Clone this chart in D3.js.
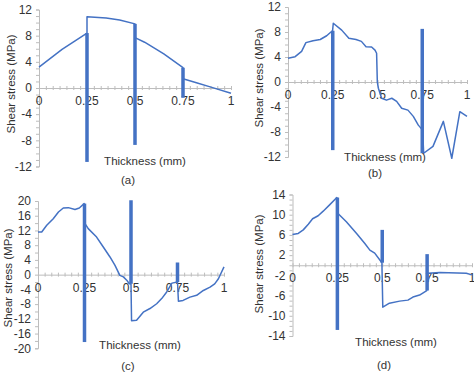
<!DOCTYPE html>
<html><head><meta charset="utf-8">
<script src="https://cdn.jsdelivr.net/npm/d3@7"></script>
<style>html,body{margin:0;padding:0;background:#fff;}svg{display:block;}</style>
</head><body>
<script>
// ---------- data ----------
const xTickLabels = [0, 0.25, 0.5, 0.75, 1];

const aX = [0, 0.12, 0.25, 0.25, 0.35, 0.42, 0.5, 0.5, 0.55, 0.65, 0.75, 0.75, 0.82, 0.9, 1];
const aY = [3.2, 5.9, 8.4, 10.9, 10.7, 10.4, 9.8, 7.7, 7.0, 5.2, 3.1, 1.4, 0.8, 0.1, -0.8];
const aBarX = [0.25, 0.5, 0.75];
const aBarTop = [8.4, 9.8, 3.1];
const aBarBottom = [-11.3, -8.7, -1.5];
const aYTicks = [-12, -8, -4, 0, 4, 8, 12];

const bX = [0, 0.04, 0.076, 0.10, 0.14, 0.18, 0.216, 0.24, 0.249, 0.253, 0.30, 0.34, 0.38, 0.41, 0.436, 0.467, 0.486, 0.495, 0.499, 0.505, 0.523, 0.55, 0.58, 0.607, 0.635, 0.67, 0.70, 0.728, 0.752, 0.758, 0.81, 0.868, 0.915, 0.96, 1.0];
const bY = [3.8, 4.05, 4.9, 6.3, 6.6, 6.8, 7.4, 8.0, 8.2, 9.4, 8.3, 7.0, 6.8, 6.5, 5.65, 5.6, 5.1, 4.6, 0, -1.0, -2.6, -2.9, -2.6, -3.1, -4.2, -4.5, -5.5, -6.9, -7.7, -11.4, -10.3, -6.3, -12.2, -4.75, -5.5];
const bBarX = [0.25, 0.75];
const bBarTop = [8.2, 8.5];
const bBarBottom = [-10.9, -11.4];
const bYTicks = [-12, -8, -4, 0, 4, 8, 12];

const cX = [0, 0.02, 0.047, 0.082, 0.11, 0.136, 0.163, 0.199, 0.222, 0.248, 0.252, 0.27, 0.315, 0.351, 0.387, 0.414, 0.44, 0.459, 0.477, 0.49, 0.5, 0.503, 0.53, 0.566, 0.602, 0.638, 0.665, 0.692, 0.72, 0.75, 0.755, 0.78, 0.817, 0.853, 0.889, 0.925, 0.95, 0.97, 1.0];
const cY = [11.6, 11.6, 13.4, 15.2, 17.0, 18.1, 18.2, 17.7, 18.1, 19.3, 13.9, 12.5, 10.2, 7.5, 4.8, 2.5, -0.2, -0.6, -1.5, -2.4, -2.6, -12.5, -12.4, -10.2, -9.2, -7.9, -6.5, -4.7, -2.3, -2.0, -7.2, -7.0, -6.1, -5.6, -4.3, -3.4, -2.5, -1.1, 2.1];
const cBarX = [0.25, 0.5, 0.75];
const cBarTop = [19.3, 20.2, 3.3];
const cBarBottom = [-18.3, -2.5, -2.0];
const cYTicks = [-20, -16, -12, -8, -4, 0, 4, 8, 12, 16, 20];

const dX = [0, 0.032, 0.06, 0.088, 0.112, 0.143, 0.171, 0.208, 0.247, 0.252, 0.30, 0.357, 0.403, 0.431, 0.458, 0.498, 0.503, 0.54, 0.597, 0.643, 0.671, 0.708, 0.748, 0.755, 0.82, 0.968, 1.0];
const dY = [6.1, 6.3, 7.0, 8.1, 9.2, 9.8, 10.7, 12.0, 13.4, 10.3, 8.6, 6.3, 4.3, 3.0, 2.4, 0.5, -8.3, -7.5, -7.1, -6.9, -6.3, -5.9, -5.0, -1.6, -1.45, -1.6, -1.9];
const dBarX = [0.25, 0.5, 0.75];
const dBarTop = [13.4, 7.0, 2.2];
const dBarBottom = [-12.8, 0.5, -5.0];
const dYTicks = [-14, -10, -6, -2, 2, 6, 10, 14];

// ---------- drawing ----------
const W = 474, H = 372;
const svg = d3.select("body").append("svg").attr("width", W).attr("height", H);
const FONT = "'Liberation Sans', Arial, sans-serif";
const BLUE = "#4472c4";
const AXIS = "#bdbdbd";
const TEXT = "#333";

function panel(o) {
  const x = d3.scaleLinear().domain([0, 1]).range(o.xr);
  const y = d3.scaleLinear().domain(o.yd).range(o.yr);
  const g = svg.append("g");

  // y axis
  const yAxis = d3.axisLeft(y).tickValues(d3.range(o.yd[0], o.yd[1] + 0.001, o.minor))
    .tickSize(3).tickFormat("");
  const ya = g.append("g").attr("transform", `translate(${o.xr[0]},0)`).call(yAxis);
  ya.select(".domain").attr("stroke", AXIS);
  ya.selectAll(".tick line").attr("stroke", AXIS);
  g.selectAll(".ylab").data(o.yTicks).join("text")
    .attr("x", o.xr[0] - 7).attr("y", d => y(d)).attr("dy", "0.35em")
    .attr("text-anchor", "end").attr("font-family", FONT).attr("font-size", 12)
    .attr("fill", TEXT).text(d => d);

  // x axis at zero
  const xAxis = d3.axisBottom(x).tickValues(d3.range(0, 29).map(i => i / 28))
    .tickSize(2).tickSizeOuter(0).tickFormat("");
  const xa = g.append("g").attr("transform", `translate(0,${y(0)})`).call(xAxis);
  xa.select(".domain").attr("stroke", AXIS);
  xa.selectAll(".tick line").attr("stroke", AXIS).attr("y1", -2);
  g.selectAll(".xlab").data(xTickLabels).join("text")
    .attr("x", d => x(d)).attr("y", y(0) + 17)
    .attr("text-anchor", "middle").attr("font-family", FONT).attr("font-size", 12)
    .attr("fill", TEXT).text(d => d);

  // bars
  g.selectAll(".bar").data(o.barX.map((v, i) => ({ x: v, t: o.barTop[i], b: o.barBottom[i] })))
    .join("rect")
    .attr("x", d => x(d.x) - 1.75).attr("width", 3.5)
    .attr("y", d => y(d.t)).attr("height", d => y(d.b) - y(d.t))
    .attr("fill", BLUE);

  // line
  const line = d3.line().x(d => x(d[0])).y(d => y(d[1]));
  g.append("path").datum(o.xs.map((v, i) => [v, o.ys[i]]))
    .attr("d", line).attr("fill", "none").attr("stroke", BLUE)
    .attr("stroke-width", 1.5).attr("stroke-linejoin", "round");

  // titles
  g.append("text").attr("transform", `translate(${o.yt[0]},${o.yt[1]}) rotate(-90)`)
    .attr("text-anchor", "middle").attr("dy", "0.35em")
    .attr("font-family", FONT).attr("font-size", 11.5).attr("fill", TEXT)
    .text("Shear stress (MPa)");
  g.append("text").attr("x", o.xt[0]).attr("y", o.xt[1]).attr("dy", "0.35em")
    .attr("text-anchor", "middle").attr("font-family", FONT).attr("font-size", 11.5)
    .attr("fill", TEXT).text("Thickness (mm)");
  g.append("text").attr("x", o.lab[0]).attr("y", o.lab[1]).attr("dy", "0.35em")
    .attr("text-anchor", "middle").attr("font-family", FONT).attr("font-size", 11.5)
    .attr("fill", TEXT).text(o.label);
}

panel({ xr: [39, 231], yd: [-12, 12], yr: [166.5, 9.5], minor: 1, yTicks: aYTicks,
  xs: aX, ys: aY, barX: aBarX, barTop: aBarTop, barBottom: aBarBottom,
  yt: [11, 84], xt: [145, 161], lab: [128, 180], label: "(a)" });
panel({ xr: [288, 467], yd: [-12, 12], yr: [157, 7], minor: 1, yTicks: bYTicks,
  xs: bX, ys: bY, barX: bBarX, barTop: bBarTop, barBottom: bBarBottom,
  yt: [259, 78], xt: [385, 157], lab: [375, 173], label: "(b)" });
panel({ xr: [38, 224], yd: [-20, 20], yr: [348.3, 201], minor: 2, yTicks: cYTicks,
  xs: cX, ys: cY, barX: cBarX, barTop: cBarTop, barBottom: cBarBottom,
  yt: [8, 278], xt: [140, 345], lab: [128, 366], label: "(c)" });
panel({ xr: [292.5, 472], yd: [-14, 14], yr: [336, 194.5], minor: 1, yTicks: dYTicks,
  xs: dX, ys: dY, barX: dBarX, barTop: dBarTop, barBottom: dBarBottom,
  yt: [259, 264], xt: [396, 342], lab: [384, 365], label: "(d)" });
</script>
</body></html>
